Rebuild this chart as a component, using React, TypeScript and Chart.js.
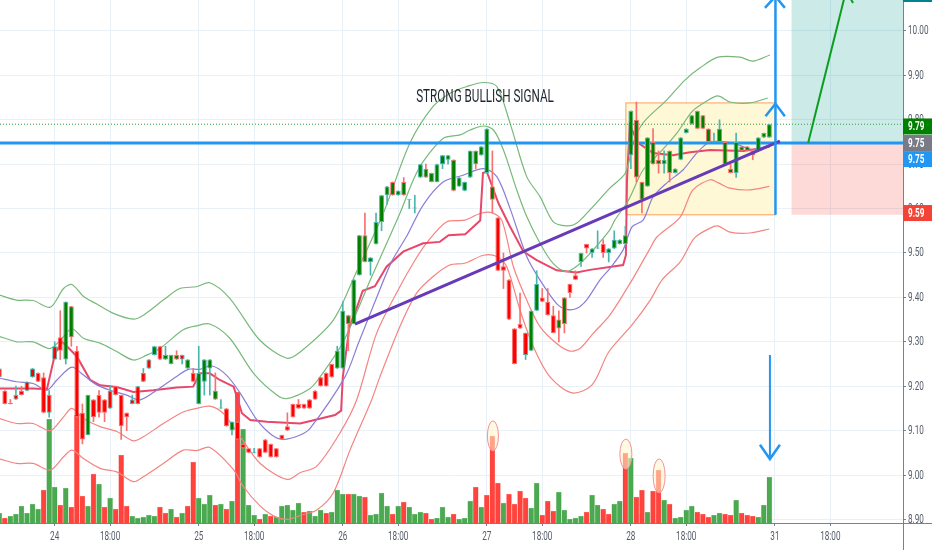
import Chart from "chart.js/auto";
import { useEffect, useRef } from "react";

// bar index 0 is the first bar of the 24th; one session is 26 bars
const firstBar = -10;
const axisMinBar = -9.874;
const axisMaxBar = 153.12;
const priceTop = 10.0698;
const priceBottom = 8.8919;

const barTicks = [0, 10, 26, 36, 52, 62, 78, 88, 104, 114, 130, 140];
const barTickLabels = ["24", "18:00", "25", "18:00", "26", "18:00", "27", "18:00", "28", "18:00", "31", "18:00"];
const priceTicks = [8.9, 9.0, 9.1, 9.2, 9.3, 9.4, 9.5, 9.6, 9.7, 9.8, 9.9, 10.0];

const opens = [
  9.24, 9.19, 9.16, 9.18, 9.19, 9.21, 9.24, 9.23, 9.22, 9.18,
  9.29, 9.31, 9.26, 9.31, 9.28, 9.14, 9.09, 9.17, 9.18, 9.17,
  9.19, 9.20, 9.18, 9.14, 9.17, 9.20, 9.23, 9.26, 9.27, 9.29,
  9.26, 9.25, 9.26, 9.27, 9.24, 9.23, 9.16, 9.21, 9.24, 9.17,
  9.15, 9.15, 9.10, 9.12, 9.07, 9.06, 9.05, 9.06, 9.08, 9.07,
  9.06, 9.09, 9.11, 9.16, 9.16, 9.16, 9.17, 9.19, 9.22, 9.23,
  9.25, 9.24, 9.24, 9.34, 9.34, 9.45, 9.48, 9.48, 9.52, 9.57,
  9.63, 9.63, 9.63, 9.63, 9.62, 9.60, 9.67, 9.67, 9.66, 9.66,
  9.70, 9.71, 9.64, 9.65, 9.64, 9.67, 9.70, 9.72, 9.68, 9.62,
  9.58, 9.47, 9.44, 9.33, 9.34, 9.32, 9.28, 9.37, 9.40, 9.39,
  9.36, 9.33, 9.34, 9.43, 9.45, 9.48, 9.52, 9.50, 9.51, 9.52,
  9.50, 9.51, 9.52, 9.52, 9.72, 9.67, 9.62, 9.65, 9.70, 9.70,
  9.70, 9.68, 9.68, 9.71, 9.77, 9.79, 9.78, 9.78, 9.75, 9.75,
  9.75, 9.70, 9.68, 9.68, 9.73, 9.73, 9.72, 9.73, 9.76, 9.76,
];
const closes = [
  9.22, 9.16, 9.16, 9.17, 9.18, 9.19, 9.22, 9.21, 9.14, 9.14,
  9.26, 9.28, 9.39, 9.38, 9.13, 9.08, 9.18, 9.13, 9.14, 9.14,
  9.15, 9.18, 9.11, 9.13, 9.16, 9.16, 9.21, 9.24, 9.29, 9.26,
  9.27, 9.27, 9.27, 9.26, 9.26, 9.21, 9.23, 9.26, 9.26, 9.19,
  9.15, 9.11, 9.12, 9.08, 9.06, 9.05, 9.05, 9.04, 9.05, 9.04,
  9.04, 9.08, 9.10, 9.13, 9.15, 9.15, 9.15, 9.17, 9.20, 9.20,
  9.22, 9.28, 9.37, 9.36, 9.44, 9.54, 9.54, 9.49, 9.57, 9.63,
  9.65, 9.66, 9.64, 9.66, 9.62, 9.60, 9.70, 9.69, 9.68, 9.70,
  9.72, 9.72, 9.71, 9.67, 9.66, 9.73, 9.73, 9.74, 9.78, 9.65,
  9.46, 9.46, 9.35, 9.25, 9.33, 9.27, 9.37, 9.43, 9.39, 9.36,
  9.32, 9.35, 9.40, 9.41, 9.44, 9.50, 9.51, 9.51, 9.51, 9.50,
  9.51, 9.53, 9.53, 9.54, 9.82, 9.80, 9.66, 9.76, 9.75, 9.71,
  9.71, 9.73, 9.69, 9.76, 9.78, 9.81, 9.82, 9.81, 9.78, 9.75,
  9.78, 9.75, 9.69, 9.75, 9.74, 9.74, 9.73, 9.76, 9.77, 9.79,
];
const highs = [
  9.24, 9.19, 9.17, 9.20, 9.20, 9.21, 9.24, 9.23, 9.23, 9.19,
  9.30, 9.37, 9.39, 9.38, 9.29, 9.16, 9.18, 9.17, 9.19, 9.17,
  9.20, 9.20, 9.18, 9.14, 9.18, 9.20, 9.24, 9.26, 9.29, 9.29,
  9.29, 9.27, 9.28, 9.27, 9.26, 9.24, 9.29, 9.26, 9.26, 9.23,
  9.17, 9.15, 9.12, 9.12, 9.07, 9.06, 9.06, 9.06, 9.08, 9.07,
  9.06, 9.09, 9.14, 9.16, 9.17, 9.16, 9.17, 9.19, 9.22, 9.23,
  9.25, 9.29, 9.39, 9.36, 9.44, 9.54, 9.59, 9.49, 9.59, 9.63,
  9.65, 9.66, 9.64, 9.67, 9.62, 9.63, 9.70, 9.70, 9.68, 9.70,
  9.72, 9.72, 9.71, 9.67, 9.66, 9.73, 9.73, 9.74, 9.78, 9.73,
  9.58, 9.50, 9.44, 9.33, 9.41, 9.32, 9.37, 9.46, 9.42, 9.42,
  9.38, 9.37, 9.40, 9.43, 9.46, 9.50, 9.52, 9.51, 9.55, 9.53,
  9.51, 9.55, 9.53, 9.56, 9.82, 9.84, 9.66, 9.76, 9.78, 9.73,
  9.73, 9.73, 9.69, 9.76, 9.78, 9.81, 9.82, 9.81, 9.78, 9.77,
  9.80, 9.75, 9.70, 9.77, 9.74, 9.74, 9.73, 9.76, 9.77, 9.79,
];
const lows = [
  9.22, 9.16, 9.16, 9.17, 9.18, 9.19, 9.22, 9.21, 9.14, 9.13,
  9.26, 9.26, 9.25, 9.29, 9.13, 9.07, 9.09, 9.12, 9.13, 9.12,
  9.15, 9.18, 9.08, 9.10, 9.16, 9.16, 9.21, 9.24, 9.27, 9.26,
  9.26, 9.25, 9.26, 9.25, 9.24, 9.21, 9.16, 9.18, 9.18, 9.17,
  9.15, 9.11, 9.09, 9.08, 9.06, 9.05, 9.05, 9.04, 9.05, 9.04,
  9.04, 9.08, 9.10, 9.13, 9.15, 9.15, 9.15, 9.17, 9.20, 9.20,
  9.22, 9.24, 9.24, 9.28, 9.34, 9.45, 9.48, 9.45, 9.52, 9.55,
  9.61, 9.63, 9.63, 9.63, 9.60, 9.59, 9.67, 9.67, 9.66, 9.66,
  9.69, 9.70, 9.64, 9.65, 9.64, 9.67, 9.69, 9.72, 9.68, 9.59,
  9.46, 9.42, 9.35, 9.25, 9.33, 9.26, 9.28, 9.37, 9.39, 9.36,
  9.32, 9.30, 9.32, 9.40, 9.44, 9.47, 9.50, 9.49, 9.51, 9.49,
  9.48, 9.51, 9.52, 9.52, 9.69, 9.66, 9.59, 9.65, 9.70, 9.68,
  9.68, 9.66, 9.68, 9.71, 9.77, 9.79, 9.78, 9.78, 9.75, 9.75,
  9.75, 9.70, 9.68, 9.67, 9.73, 9.73, 9.71, 9.73, 9.76, 9.76,
];
// candles whose outline has the other colour than their body
const mixedOutline = [
  -10, -8, -7, -5, -4, -1, 0, 10, 14, 15, 16, 17, 23, 3, 22, 29, 53, 56, 61, 63, 67, 68, 72, 76, 79, 85,
  91, 92, 105, 106, 108, 109, 111, 116, 117, 118, 121, 122, 124, 125, 126,
];

const volumes = [
  10, 5, 7, 9, 17, 10, 19, 14, 33, 104,
  36, 18, 35, 16, 108, 27, 17, 49, 39, 16,
  25, 14, 68, 17, 7, 5, 6, 8, 7, 16,
  10, 14, 6, 10, 17, 61, 25, 19, 28, 18,
  19, 14, 22, 131, 94, 18, 8, 4, 9, 7,
  6, 17, 18, 13, 20, 11, 12, 7, 13, 10,
  11, 33, 29, 29, 29, 27, 26, 8, 9, 30,
  17, 9, 17, 21, 16, 9, 11, 10, 4, 5,
  16, 6, 9, 4, 5, 22, 36, 16, 28, 87,
  40, 20, 29, 19, 32, 25, 15, 40, 8, 22,
  12, 31, 13, 4, 5, 7, 11, 28, 18, 14,
  9, 19, 22, 70, 65, 26, 33, 11, 32, 53,
  23, 19, 5, 6, 13, 17, 11, 9, 6, 8,
  10, 9, 8, 23, 10, 8, 7, 6, 18, 46,
];
const volumeSides =
  "grggggggrg" + "grgrrrgrgr" + "grrrgggggr" + "rgrgrrgggr" + "grgrgggrgr" +
  "gggggrgggr" + "gggrggrggg" + "grgrgggrrg" + "ggrgggrgrr" + "rgrrrrggrr" +
  "rgggggrggr" + "rggrgrrgrr" + "grggggrrrg" + "grrgrrrggg";

// band curves as [bar, price] pairs
const upperOuter = [
  [-9.9, 9.405], [-6.9, 9.394], [-3.9, 9.393], [-0.8, 9.378], [1.6, 9.42], [3.1, 9.429], [5.2, 9.402], [7.6, 9.385],
  [10.6, 9.364], [14.2, 9.351], [16, 9.36], [19.6, 9.394], [22.6, 9.42], [25.6, 9.424], [28, 9.433], [31.6, 9.398],
  [37, 9.304], [41.9, 9.263], [44.3, 9.277], [50.3, 9.349], [54.2, 9.45], [59.3, 9.589], [64.1, 9.747], [68.3, 9.83],
  [71.4, 9.86], [74.4, 9.875], [77.4, 9.884], [79.8, 9.875], [82.2, 9.792], [85.2, 9.672], [87.6, 9.627], [90, 9.57],
  [92.4, 9.561], [94.2, 9.567], [96.6, 9.597], [100.2, 9.646], [103, 9.68], [104.5, 9.75], [106.2, 9.793], [110.5, 9.845],
  [113.8, 9.89], [116.5, 9.917], [119.7, 9.941], [123.7, 9.941], [126, 9.932], [129.1, 9.946],
];
const upperInner = [
  [-9.9, 9.312], [-6.9, 9.3], [-3.9, 9.3], [-0.8, 9.285], [1.6, 9.312], [3.1, 9.33], [5.2, 9.308], [8.2, 9.297],
  [11.2, 9.278], [14.2, 9.259], [16.6, 9.27], [19, 9.285], [23.2, 9.327], [25.6, 9.336], [28, 9.34], [31.6, 9.308],
  [35.9, 9.229], [40.1, 9.18], [41.9, 9.172], [46.1, 9.195], [47.9, 9.221], [52.1, 9.3], [57.2, 9.446], [62.3, 9.589],
  [64.7, 9.664], [66.5, 9.706], [70.1, 9.758], [73.2, 9.766], [75, 9.777], [77.4, 9.786], [79.2, 9.777], [81, 9.732],
  [83.4, 9.642], [85.2, 9.582], [87.6, 9.522], [90, 9.476], [92.4, 9.458], [94.8, 9.476], [97.2, 9.507], [100.2, 9.552],
  [101.1, 9.574], [103.3, 9.613], [104.2, 9.635], [106.2, 9.687], [109.3, 9.727], [112.3, 9.77], [115, 9.818], [117.4, 9.84],
  [119.7, 9.854], [121.9, 9.84], [125.5, 9.838], [128.7, 9.849],
];
const movingAverage = [
  [-9.9, 9.218], [-6.9, 9.21], [-3.9, 9.206], [-1.4, 9.191], [0.4, 9.214], [3.1, 9.243], [5.2, 9.225], [7.6, 9.203],
  [10, 9.191], [13, 9.18], [15.4, 9.169], [18.4, 9.191], [22, 9.222], [24.1, 9.238], [26.2, 9.238], [28.3, 9.246],
  [31, 9.225], [33.5, 9.184], [36.5, 9.124], [39.2, 9.09], [41.3, 9.08], [44.3, 9.09], [46.1, 9.105], [52.4, 9.221],
  [54.8, 9.296], [57.8, 9.39], [60.8, 9.48], [63.5, 9.537], [66.5, 9.608], [70.1, 9.66], [73.7, 9.675], [77.4, 9.69],
  [79.8, 9.672], [82.2, 9.6], [85.2, 9.492], [87.6, 9.439], [90.6, 9.386], [92.4, 9.373], [94.2, 9.375], [96, 9.394],
  [98.4, 9.439], [100.2, 9.465], [102.6, 9.507], [104.2, 9.559], [106.2, 9.574], [108, 9.626], [110.5, 9.658],
  [113.4, 9.687], [115.9, 9.725], [118.3, 9.75], [122.5, 9.747], [126, 9.733], [129, 9.743],
];
const vwap = [
  [-9.9, 9.195], [-3.9, 9.195], [-1.4, 9.193], [0.1, 9.275], [1.3, 9.3], [2.2, 9.29], [4, 9.267], [6.4, 9.214],
  [8.2, 9.202], [11.2, 9.198], [14.2, 9.187], [17.8, 9.191], [22, 9.197], [25, 9.199], [26.2, 9.229], [28, 9.229],
  [29.8, 9.214], [32.3, 9.199], [33.8, 9.139], [35.3, 9.124], [38.3, 9.12], [44.3, 9.116], [50.6, 9.135], [51.7, 9.145],
  [52, 9.22], [53.2, 9.334], [54.4, 9.372], [55.6, 9.415], [57.8, 9.425], [59.9, 9.469], [62.9, 9.503], [66.5, 9.522],
  [69.5, 9.525], [71.1, 9.54], [74.1, 9.542], [76.8, 9.573], [77.3, 9.68], [78, 9.683], [80.1, 9.612], [82.2, 9.559],
  [84.6, 9.503], [87, 9.484], [90.6, 9.461], [94.2, 9.456], [96.6, 9.462], [102.6, 9.473], [103.1, 9.495], [103.3, 9.664],
  [103.8, 9.788], [105.3, 9.748], [108, 9.725], [111.6, 9.72], [114.7, 9.727], [118.3, 9.732], [124.3, 9.73], [129, 9.739],
];
const lowerInner = [
  [-9.9, 9.127], [-6.9, 9.116], [-3.9, 9.116], [-0.8, 9.1], [1.6, 9.131], [3.1, 9.15], [5.2, 9.127], [8.2, 9.109],
  [11.2, 9.098], [14.2, 9.077], [16, 9.086], [19.6, 9.116], [23.2, 9.142], [25.6, 9.15], [28, 9.155], [30.4, 9.139],
  [33.5, 9.086], [37.1, 9.026], [41.9, 8.99], [44.3, 9.005], [47.3, 9.02], [51.5, 9.095], [54.5, 9.169], [58.1, 9.319],
  [62.3, 9.424], [64.7, 9.477], [67.1, 9.522], [70.7, 9.57], [74, 9.574], [76.8, 9.589], [78.9, 9.591], [80.7, 9.574],
  [82.8, 9.469], [85.2, 9.394], [87.6, 9.334], [90.6, 9.296], [93, 9.279], [94.8, 9.285], [97.2, 9.319], [100.2, 9.36],
  [104.2, 9.439], [107.5, 9.511], [108.7, 9.536], [112.9, 9.581], [115.2, 9.642], [118.3, 9.665], [119.8, 9.658],
  [121.9, 9.646], [125.5, 9.642], [129, 9.65],
];
const lowerOuter = [
  [-9.9, 9.036], [-6.9, 9.026], [-3.9, 9.026], [-0.8, 9.011], [1.6, 9.041], [3.1, 9.056], [5.2, 9.037], [8.2, 9.015],
  [11.2, 9.007], [14.2, 8.985], [16, 8.996], [19.6, 9.026], [23.2, 9.056], [25.6, 9.055], [28, 9.062], [32.2, 9.013],
  [34.1, 8.973], [37.1, 8.93], [39.5, 8.908], [41.9, 8.9], [44.6, 8.91], [47.3, 8.921], [50.3, 8.96], [53.3, 9.056],
  [57.2, 9.169], [58.7, 9.221], [62.3, 9.334], [65.3, 9.409], [68.3, 9.447], [71.3, 9.473], [74, 9.477], [77.4, 9.495],
  [79.8, 9.492], [81.6, 9.469], [84, 9.371], [86.4, 9.289], [89.4, 9.221], [93.4, 9.185], [97, 9.203], [100, 9.277],
  [104.2, 9.338], [107.5, 9.394], [109.6, 9.439], [112.9, 9.48], [115.5, 9.534], [118.3, 9.556], [119.7, 9.561],
  [121.9, 9.547], [125.5, 9.545], [129, 9.554],
];

// drawings on the chart, in [bar, price]
const entryPrice = 9.7477;
const lastPrice = 9.79;
const trendLine = [[54.2, 9.34], [130.9, 9.752]];
const markedBox = { fromBar: 103.1, toBar: 130.1, top: 9.838, bottom: 9.586 };
const riskRewardFromBar = 133;
const boxEdge = [[130.1, 10.09], [130.1, 9.586]];
const topChevron = [[128.2, 10.052], [130.1, 10.078], [131.8, 10.052]];
const midChevron = [[128.3, 9.808], [130.1, 9.836], [131.8, 9.808]];
const downArrow = [[129.1, 9.27], [129.1, 9.036]];
const downChevron = [[127.3, 9.068], [129.1, 9.036], [130.9, 9.068]];
const targetArrow = [[136, 9.748], [142.8, 10.088]];
const targetHead = [[143, 10.088], [144.1, 10.063]];
const volumeEllipses = [
  { bar: 79.1, price: 9.088, rx: 5.5, ry: 15 },
  { bar: 103.1, price: 9.047, rx: 6, ry: 15 },
  { bar: 109.1, price: 8.998, rx: 6, ry: 17 },
];
const priceTags = [
  { text: "9.79", price: 9.785, color: "#008000" },
  { text: "9.75", price: 9.7477, color: "#787b86" },
  { text: "9.75", price: 9.7115, color: "#2196f3" },
  { text: "9.59", price: 9.59, color: "#f44336" },
];

const FONT = 'Roboto, "Open Sans", sans-serif';
const UP = "#008000";
const DOWN = "#ff0000";
const UP_EDGE = "#4db6ac";
const DOWN_EDGE = "#f97070";
const ARROW_BLUE = "#2196f3";
const AXIS_TEXT = "#555c68";

const pts = (list: number[][]) => list.map(([x, y]) => ({ x, y }));
const bars = volumes.map((_, n) => firstBar + n);

// the picture's lettering is squeezed sideways, no installed font is that narrow
function squeezedText(ctx: any, text: string, x: number, y: number, font: string, squeeze: number) {
  ctx.save();
  ctx.font = font;
  ctx.textBaseline = "middle";
  ctx.translate(x, y);
  ctx.scale(squeeze, 1);
  ctx.fillText(text, 0, 0);
  ctx.restore();
}

const drawingsPlugin = {
  id: "drawings",
  beforeDatasetsDraw(chart: any) {
    const { ctx, chartArea, scales } = chart;
    const px = (b: number) => scales.x.getPixelForValue(b);
    const py = (p: number) => scales.y.getPixelForValue(p);
    ctx.save();
    ctx.fillStyle = "rgba(0, 150, 136, 0.2)";
    ctx.fillRect(px(riskRewardFromBar), 0, chartArea.right - px(riskRewardFromBar), py(entryPrice));
    ctx.fillStyle = "rgba(244, 67, 54, 0.2)";
    ctx.fillRect(px(riskRewardFromBar), py(entryPrice), chartArea.right - px(riskRewardFromBar), py(9.586) - py(entryPrice));
    const bx = px(markedBox.fromBar);
    const by = py(markedBox.top);
    const bw = px(markedBox.toBar) - bx;
    const bh = py(markedBox.bottom) - by;
    ctx.fillStyle = "#fff8d6";
    ctx.fillRect(bx, by, bw, bh);
    ctx.strokeStyle = "#ff9f5a";
    ctx.lineWidth = 1;
    ctx.strokeRect(bx, by, bw, bh);
    ctx.restore();
  },
  afterDatasetsDraw(chart: any) {
    const { ctx, scales } = chart;
    const px = (b: number) => scales.x.getPixelForValue(b);
    const py = (p: number) => scales.y.getPixelForValue(p);
    ctx.save();
    volumeEllipses.forEach((e) => {
      ctx.beginPath();
      ctx.ellipse(px(e.bar), py(e.price), e.rx, e.ry, 0, 0, Math.PI * 2);
      ctx.fillStyle = "rgba(255, 245, 200, 0.55)";
      ctx.fill();
      ctx.strokeStyle = "#f4919c";
      ctx.lineWidth = 1;
      ctx.stroke();
    });
    ctx.fillStyle = "#1f2530";
    ctx.textAlign = "center";
    squeezedText(ctx, "STRONG BULLISH SIGNAL", 485, 97, `18px ${FONT}`, 0.65);
    ctx.restore();
  },
  afterDraw(chart: any) {
    const { ctx, chartArea, scales, width, height } = chart;
    const py = (p: number) => scales.y.getPixelForValue(p);
    ctx.save();
    ctx.strokeStyle = "#7f7f7f";
    ctx.lineWidth = 1;
    ctx.beginPath();
    ctx.moveTo(chartArea.right + 0.5, 0);
    ctx.lineTo(chartArea.right + 0.5, height);
    ctx.moveTo(0, chartArea.bottom + 0.5);
    ctx.lineTo(width, chartArea.bottom + 0.5);
    ctx.stroke();

    ctx.fillStyle = AXIS_TEXT;
    ctx.textAlign = "center";
    barTicks.forEach((bar, n) => {
      squeezedText(ctx, barTickLabels[n], scales.x.getPixelForValue(bar), 537, `12px ${FONT}`, 0.68);
    });
    ctx.textAlign = "left";
    priceTicks.forEach((price) => {
      squeezedText(ctx, price.toFixed(2), chartArea.right + 5, py(price) + 0.5, `12px ${FONT}`, 0.68);
    });

    ctx.fillStyle = "#00838f";
    ctx.fillRect(chartArea.right, 0, width - chartArea.right, 2);
    priceTags.forEach((tag) => {
      const y = py(tag.price);
      ctx.fillStyle = tag.color;
      ctx.fillRect(chartArea.right, y - 8, width - chartArea.right, 16);
      ctx.fillStyle = "#ffffff";
      squeezedText(ctx, tag.text, chartArea.right + 5, y + 0.5, `bold 12px ${FONT}`, 0.68);
    });
    ctx.restore();
  },
};

export default function App() {
  const canvasRef = useRef<HTMLCanvasElement | null>(null);

  useEffect(() => {
    if (!canvasRef.current) {
      return;
    }
    document.body.style.margin = "0";

    const isUp = (n: number) => closes[n] >= opens[n];
    const edgeOf = (n: number) => {
      const mixed = mixedOutline.includes(firstBar + n);
      return isUp(n) !== mixed ? UP_EDGE : DOWN_EDGE;
    };
    const line = (data: number[][], color: string, width: number, order: number, tension = 0, dash: number[] = []) => ({
      type: "line",
      data: pts(data),
      borderColor: color,
      borderWidth: width,
      borderDash: dash,
      pointRadius: 0,
      tension,
      order,
      yAxisID: "y",
    });

    const chart = new Chart(canvasRef.current, {
      type: "bar",
      data: {
        datasets: [
          {
            data: bars.map((b, n) => ({ x: b, y: volumes[n] })),
            backgroundColor: bars.map((_, n) => (volumeSides[n] === "g" ? "rgba(56, 160, 62, 0.9)" : "rgba(255, 48, 40, 0.9)")),
            borderColor: bars.map((_, n) => (volumeSides[n] === "g" ? "#a9d8ab" : "#ffa8a4")),
            borderWidth: 0.5,
            barThickness: 5,
            grouped: false,
            order: 9,
            yAxisID: "vol",
          },
          line(upperOuter, "#78b97a", 1.2, 8, 0.3),
          line(upperInner, "#78b97a", 1.2, 8, 0.3),
          line(movingAverage, "#8a7dd6", 1.2, 8, 0.3),
          line(vwap, "#e8476a", 2, 8),
          line(lowerInner, "#f58480", 1.2, 8, 0.3),
          line(lowerOuter, "#f58480", 1.2, 8, 0.3),
          line([[axisMinBar, lastPrice], [axisMaxBar, lastPrice]], "#2e9e3c", 1, 7, 0, [1, 2]),
          line([[axisMinBar, entryPrice], [axisMaxBar, entryPrice]], ARROW_BLUE, 3, 6),
          {
            data: bars.map((b, n) => ({ x: b, y: [lows[n], highs[n]] })),
            backgroundColor: bars.map((_, n) => edgeOf(n)),
            barThickness: 1,
            grouped: false,
            order: 5,
            yAxisID: "y",
          },
          {
            data: bars.map((b, n) => ({ x: b, y: [opens[n], closes[n]] })),
            backgroundColor: bars.map((_, n) => (isUp(n) ? UP : DOWN)),
            borderColor: bars.map((_, n) => edgeOf(n)),
            borderWidth: 1,
            borderSkipped: false,
            inflateAmount: 0,
            minBarLength: 1,
            barThickness: 5,
            grouped: false,
            order: 4,
            yAxisID: "y",
          },
          line(trendLine, "#673ab7", 3, 3),
          line(boxEdge, ARROW_BLUE, 2.5, 2),
          line(topChevron, ARROW_BLUE, 2.5, 2),
          line(midChevron, ARROW_BLUE, 2.5, 2),
          line(downArrow, ARROW_BLUE, 2, 2),
          line(downChevron, ARROW_BLUE, 2.5, 2),
          line(targetArrow, "#0a9e1e", 2, 2),
          line(targetHead, "#0a9e1e", 2, 2),
        ],
      },
      plugins: [drawingsPlugin],
      options: {
        responsive: false,
        animation: false,
        layout: { padding: 0, autoPadding: false },
        plugins: {
          legend: { display: false },
          tooltip: { enabled: false },
        },
        events: [],
        scales: {
          x: {
            type: "linear",
            offset: false,
            min: axisMinBar,
            max: axisMaxBar,
            afterBuildTicks: (scale: any) => {
              scale.ticks = barTicks.map((value) => ({ value }));
            },
            afterFit: (scale: any) => {
              scale.height = 27;
              scale.paddingLeft = 0;
              scale.paddingRight = 0;
            },
            grid: { offset: false, color: "#e9f0f6", tickColor: "#7f7f7f", tickLength: 3 },
            border: { display: false },
            ticks: { display: false },
          },
          y: {
            position: "right",
            min: priceBottom,
            max: priceTop,
            afterBuildTicks: (scale: any) => {
              scale.ticks = priceTicks.map((value) => ({ value }));
            },
            afterFit: (scale: any) => {
              scale.width = 29;
              scale.paddingTop = 0;
              scale.paddingBottom = 0;
            },
            grid: { color: "#e9f0f6", tickColor: "#7f7f7f", tickLength: 3 },
            border: { display: false },
            ticks: { display: false },
          },
          vol: { display: false, min: 0, max: 523 },
        },
      } as any,
    } as any);

    return () => {
      chart.destroy();
    };
  }, []);

  return <canvas ref={canvasRef} width={932} height={550} style={{ display: "block" }} />;
}
